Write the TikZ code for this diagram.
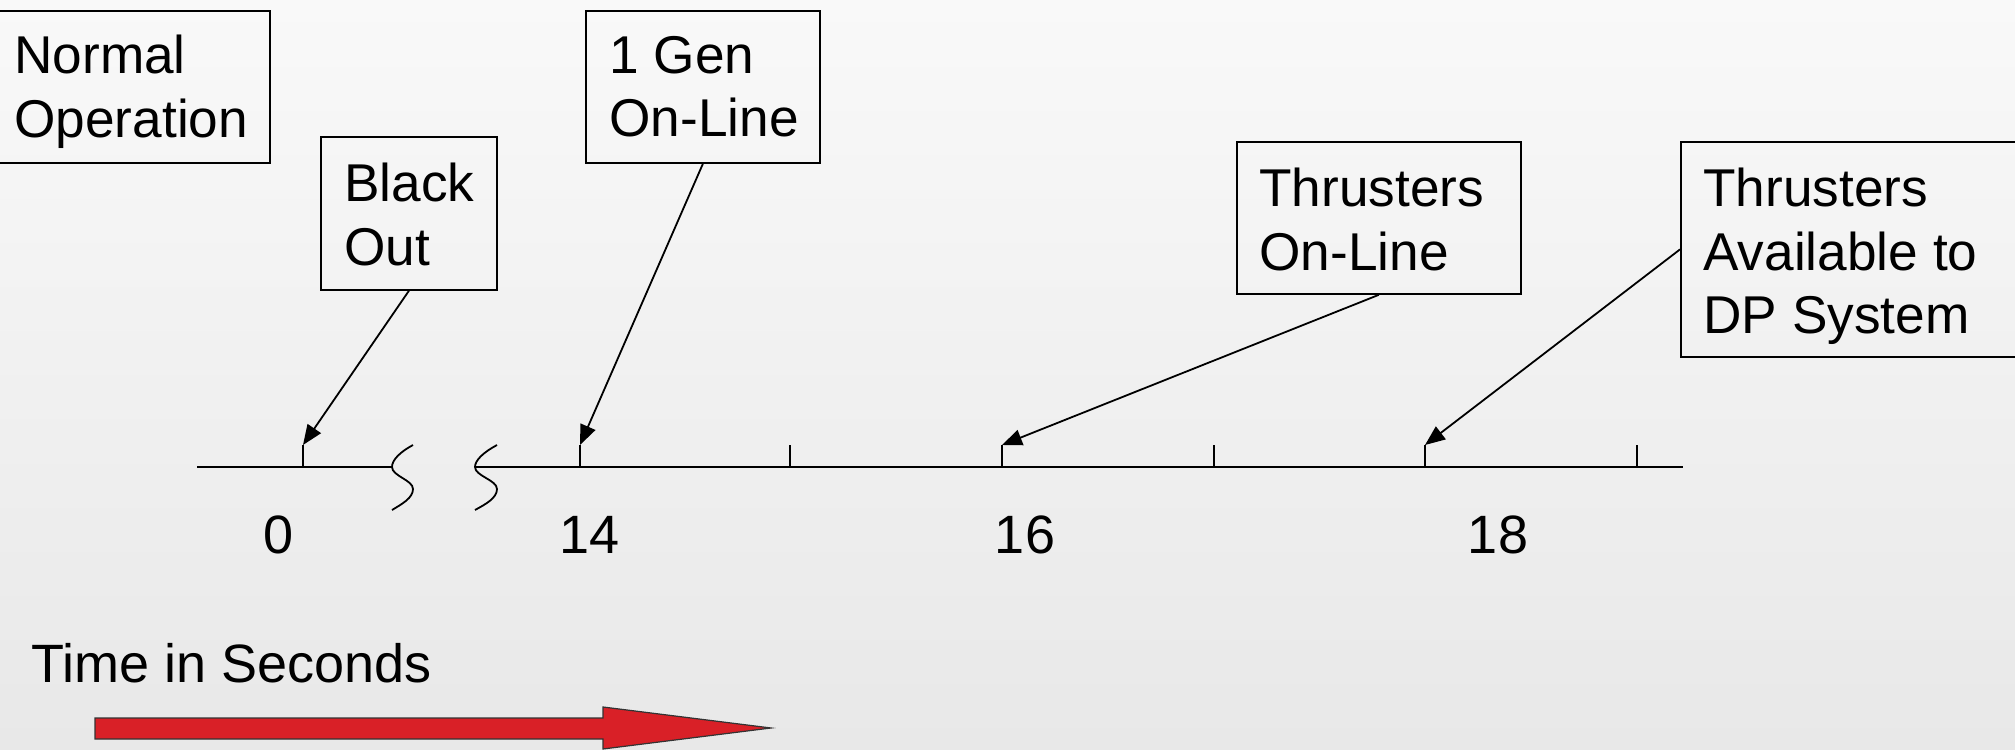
\documentclass[tikz,border=0pt]{standalone}
\usepackage{fontspec}
\setmainfont{Liberation Sans}
\usetikzlibrary{arrows.meta}
\definecolor{bgtop}{RGB}{249,249,249}
\definecolor{bgbot}{RGB}{232,232,232}
\definecolor{arrred}{RGB}{217,32,39}
\tikzset{
  lbl/.style={font=\fontsize{27}{31.6}\selectfont, inner sep=0pt},
  evbox/.style={draw=black, line width=0.9pt, anchor=north west, inner sep=0pt},
  evtext/.style={anchor=north west, align=left, inner sep=0pt,
    font=\fontsize{26.6}{31.6}\selectfont},
  pointer/.style={draw=black, line width=0.9pt, -{Triangle[length=10pt,width=8pt]}},
  axis/.style={draw=black, line width=1pt},
  tick/.style={draw=black, line width=1pt},
}
\begin{document}
\begin{tikzpicture}[x=0.5pt,y=-0.5pt]
\useasboundingbox (0,0) rectangle (2015,750);
\shade[top color=bgtop, bottom color=bgbot] (0,0) rectangle (2015,750);

% boxes
\node[evbox, minimum width=135.5pt, minimum height=76pt] (norm) at (-2,10) {};
\node[evbox, minimum width=88pt, minimum height=76.5pt] (bo) at (320,136) {};
\node[evbox, minimum width=117pt, minimum height=76pt] (gen) at (585,10) {};
\node[evbox, minimum width=142pt, minimum height=76pt] (thr) at (1236,141) {};
\node[evbox, minimum width=175pt, minimum height=107.5pt] (avail) at (1680,141) {};

% box texts
\node[evtext] (normT) at ([shift={(16,25)}]norm.north west) {Normal\\Operation};
\node[evtext] (boT) at ([shift={(24,27)}]bo.north west) {Black\\Out};
\node[evtext] (genT) at ([shift={(24,26)}]gen.north west) {1 Gen\\On-Line};
\node[evtext] (thrT) at ([shift={(23,27)}]thr.north west) {Thrusters\\On-Line};
\node[evtext] (availT) at ([shift={(23,27)}]avail.north west) {Thrusters\\Available to\\DP System};

% axis
\draw[axis] (197,467) -- (392,467);
\draw[axis] (475,467) -- (1683,467);
% break marks
\draw[line width=0.9pt] (413,445) .. controls (400,452) and (392,460) .. (392,467)
  .. controls (392,476) and (413,480) .. (413,489) .. controls (413,498) and (402,504) .. (392,510);
\draw[line width=0.9pt] (497,445) .. controls (484,452) and (475,460) .. (475,467)
  .. controls (475,476) and (497,480) .. (497,489) .. controls (497,498) and (486,504) .. (475,510);

% ticks
\foreach \n/\x in {t0/303,t1/580,t2/790,t3/1002,t4/1214,t5/1425,t6/1637}{
  \coordinate (\n) at (\x,445);
  \draw[tick] (\n) -- (\x,467);
}

% labels
\node[lbl] (l0) at (279,535) {0};
\node[lbl] (l14) at (590,535) {14};
\node[lbl] (l16) at (1025,535) {16};
\node[lbl] (l18) at (1498,535) {18};
\node[lbl, anchor=base west] (time) at (31,682) {Time in Seconds};

% pointers
\draw[pointer] (bo.south) -- (t0);
\draw[pointer] (gen.south) -- (t1);
\draw[pointer] (thr.south) -- (t3);
\draw[pointer] (avail.west) -- (t5);

% red arrow
\draw[fill=arrred, draw=black!80, line width=0.6pt] (95,718) -- (603,718) -- (603,707) -- (771,728)
  -- (603,749) -- (603,739) -- (95,739) -- cycle;
\end{tikzpicture}
\end{document}
